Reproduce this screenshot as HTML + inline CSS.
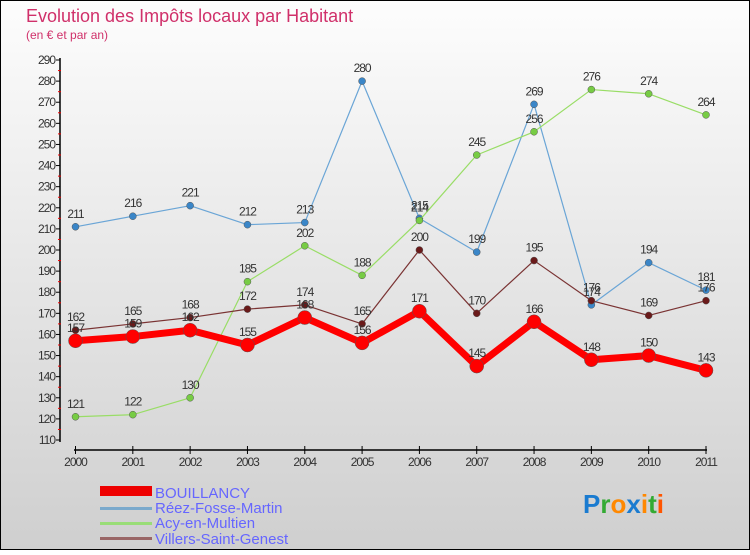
<!DOCTYPE html>
<html><head><meta charset="utf-8"><style>
body{margin:0;width:750px;height:550px;overflow:hidden;font-family:"Liberation Sans",sans-serif}
svg text{font-family:"Liberation Sans",sans-serif}
</style></head><body>
<svg width="750" height="550" xmlns="http://www.w3.org/2000/svg">
<defs><linearGradient id="bg" x1="0" y1="0" x2="0" y2="1"><stop offset="0" stop-color="#fdfdfd"/><stop offset="1" stop-color="#cfcfcf"/></linearGradient></defs>
<rect x="0.5" y="0.5" width="749" height="549" fill="url(#bg)" stroke="#000"/>
<text x="26" y="22" font-size="18" fill="#d0306a">Evolution des Impôts locaux par Habitant</text>
<text x="26" y="39" font-size="12" fill="#d0306a">(en € et par an)</text>
<g id="axes"></g>
<g id="series"></g>
<g>
<rect x="100" y="486" width="52" height="10" fill="#e00"/>
<text x="155" y="498" font-size="15" fill="#6666ff">BOUILLANCY</text>
<rect x="100" y="507" width="52" height="3" fill="#7aa9cc"/>
<text x="155" y="513" font-size="15" fill="#6666ff">Réez-Fosse-Martin</text>
<rect x="100" y="522" width="52" height="3" fill="#99dd77"/>
<text x="155" y="528" font-size="15" fill="#6666ff">Acy-en-Multien</text>
<rect x="100" y="537" width="52" height="3" fill="#996666"/>
<text x="155" y="544" font-size="15" fill="#6666ff">Villers-Saint-Genest</text>
</g>
<text x="583" y="513" font-size="26" font-weight="bold"><tspan fill="#1a7bd0">P</tspan><tspan fill="#33aa33">r</tspan><tspan fill="#ff8800">o</tspan><tspan fill="#1a7bd0">x</tspan><tspan fill="#ff8800">i</tspan><tspan fill="#33aa33">t</tspan><tspan fill="#ff5500">i</tspan></text>
</svg>
<script>
const years=["2000","2001","2002","2003","2004","2005","2006","2007","2008","2009","2010","2011"];
const yTicks=[110,120,130,140,150,160,170,180,190,200,210,220,230,240,250,260,270,280,290];
const bouillancy=[157,159,162,155,168,156,171,145,166,148,150,143];
const reez=[211,216,221,212,213,280,215,199,269,174,194,181];
const acy=[121,122,130,185,202,188,214,245,256,276,274,264];
const villers=[162,165,168,172,174,165,200,170,195,176,169,176];
const NS="http://www.w3.org/2000/svg";
const xs=i=>75.5+i*(706-75.5)/11;
const ys=v=>60+(290-v)*380/180;
function mk(t,a,p){const e=document.createElementNS(NS,t);for(const k in a)e.setAttribute(k,a[k]);p.appendChild(e);return e;}
const ax=document.getElementById('axes');
let l=mk('line',{x1:60,y1:58,x2:60,y2:442,stroke:'#000','stroke-width':1.5},ax);


yTicks.forEach(v=>{
 const y=ys(v);
 mk('line',{x1:56,y1:y,x2:60,y2:y,stroke:'#000'},ax);
 mk('line',{x1:58,y1:y-10.55,x2:61,y2:y-10.55,stroke:v<290?'#e00':'none'},ax);
 const t=mk('text',{x:55,y:y+4,'font-size':12,'text-anchor':'end',fill:'#333','letter-spacing':'-1'},ax);
 t.textContent=v;
 
 
});
l=mk('line',{x1:74,y1:450,x2:707,y2:450,stroke:'#000','stroke-width':1.5},ax);


years.forEach((yr,i)=>{
 const x=xs(i);
 mk('line',{x1:x,y1:446,x2:x,y2:454,stroke:'#000'},ax);
 const t=mk('text',{x:x,y:466,'font-size':12,'text-anchor':'middle',fill:'#333','letter-spacing':'-1'},ax);
 t.textContent=yr;
 
 
});
const sg=document.getElementById('series');
function draw(name,data,color,dot,w,r){
 const g=mk('g',{},sg);
 
 
 const p=mk('polyline',{points:data.map((v,i)=>xs(i)+','+ys(v)).join(' '),fill:'none',stroke:color,'stroke-width':w,'stroke-linejoin':'round'},g);
 
 
 data.forEach((v,i)=>{
  const c=mk('circle',{cx:xs(i),cy:ys(v),r:r,fill:dot,stroke:'#555','stroke-width':0.5},g);
  
  
  const t=mk('text',{x:xs(i),y:ys(v)-9,'font-size':12,'text-anchor':'middle',fill:'#333','letter-spacing':'-1'},g);
  t.textContent=v;
  
  
 });
}
draw('reez',reez,'#6aa5d6','#3a86c8',1.2,3.5);
draw('acy',acy,'#99dd66','#77cc44',1.2,3.5);
draw('villers',villers,'#7a3333','#6a1a1a',1.2,3.5);
draw('bouillancy',bouillancy,'#ff0000','#ff0000',7,7);
</script>
</body></html>
